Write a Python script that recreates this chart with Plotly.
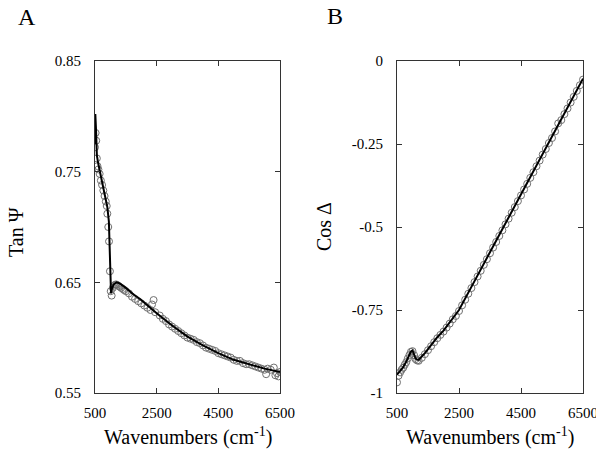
import plotly.graph_objects as go

# ---------------- Panel A: Tan Psi ----------------
a_fit_x = [500, 510, 530, 560, 600, 700, 800, 900, 950, 980, 1000, 1020, 1050, 1100, 1200,
           1300, 1500, 1750, 2000, 2500, 3000, 3500, 4000, 4500, 5000, 5500, 6000, 6500]
a_fit_y = [0.775, 0.802, 0.790, 0.765, 0.758, 0.745, 0.732, 0.718, 0.705, 0.680, 0.655, 0.640,
           0.644, 0.648, 0.650, 0.649, 0.645, 0.639, 0.634, 0.622, 0.611, 0.601, 0.593, 0.586,
           0.580, 0.576, 0.572, 0.569]

a_meas_x = [500, 520, 540, 560, 580, 610, 650, 690, 730, 770, 810, 850, 880, 900, 930, 955, 985,
            1010, 1040, 1080, 1120, 1160, 1200, 1250, 1300, 1350, 1400, 1450, 1500, 1600, 1700,
            1800, 1900, 2000, 2100, 2200, 2300, 2350, 2400, 2450, 2600, 2700, 2800, 2900, 3000,
            3100, 3200, 3300, 3400, 3500, 3600, 3700, 3800, 3900, 4000, 4100, 4200, 4300, 4400,
            4500, 4600, 4700, 4800, 4900, 5000, 5100, 5200, 5300, 5400, 5500, 5600, 5700, 5800,
            5900, 6000, 6050, 6100, 6200, 6300, 6350, 6400, 6450, 6500]
a_meas_y = [0.772, 0.785, 0.778, 0.762, 0.755, 0.752, 0.748, 0.742, 0.738, 0.733, 0.728, 0.723,
            0.719, 0.712, 0.700, 0.687, 0.660, 0.642, 0.638, 0.645, 0.647, 0.648, 0.648, 0.647,
            0.646, 0.645, 0.644, 0.643, 0.642, 0.640, 0.637, 0.635, 0.633, 0.631, 0.629, 0.627,
            0.625, 0.630, 0.634, 0.623, 0.620, 0.617, 0.615, 0.612, 0.610, 0.608, 0.606, 0.604,
            0.602, 0.600, 0.599, 0.598, 0.596, 0.595, 0.593, 0.591, 0.590, 0.589, 0.588, 0.586,
            0.585, 0.584, 0.583, 0.582, 0.580, 0.579, 0.579, 0.577, 0.576, 0.576, 0.575, 0.574,
            0.573, 0.572, 0.571, 0.567, 0.572, 0.571, 0.573, 0.566, 0.568, 0.565, 0.569]

# ---------------- Panel B: Cos Delta ----------------
b_fit_x = [500, 600, 700, 800, 900, 950, 1000, 1050, 1100, 1150, 1200, 1400, 1600, 1800, 2000,
           2500, 3000, 3500, 4000, 4500, 5000, 5500, 6000, 6500]
b_fit_y = [-0.945, -0.935, -0.922, -0.905, -0.884, -0.875, -0.872, -0.884, -0.896, -0.900,
           -0.900, -0.880, -0.856, -0.832, -0.812, -0.750, -0.663, -0.576, -0.489, -0.402,
           -0.314, -0.227, -0.140, -0.053]

b_meas_x = [500, 550, 600, 650, 700, 750, 800, 850, 900, 950, 1000, 1050, 1100, 1150, 1200,
            1300, 1400, 1500, 1600, 1700, 1800, 1900, 2000, 2100, 2200, 2300, 2400, 2500, 2600,
            2700, 2800, 2900, 3000, 3100, 3200, 3300, 3400, 3500, 3600, 3700, 3800, 3900, 4000,
            4100, 4200, 4300, 4400, 4500, 4600, 4700, 4800, 4900, 5000, 5100, 5200, 5300, 5400,
            5500, 5600, 5700, 5800, 5900, 6000, 6100, 6200, 6300, 6400, 6500]
b_meas_y = [-0.968, -0.948, -0.938, -0.930, -0.924, -0.915, -0.907, -0.896, -0.886, -0.876,
            -0.874, -0.886, -0.898, -0.902, -0.903, -0.894, -0.883, -0.871, -0.859, -0.847,
            -0.835, -0.825, -0.815, -0.803, -0.791, -0.778, -0.768, -0.753, -0.736, -0.719,
            -0.701, -0.684, -0.666, -0.649, -0.632, -0.614, -0.597, -0.579, -0.562, -0.545,
            -0.527, -0.510, -0.492, -0.475, -0.457, -0.440, -0.422, -0.405, -0.387, -0.370,
            -0.352, -0.335, -0.317, -0.300, -0.282, -0.265, -0.247, -0.232, -0.212, -0.188,
            -0.178, -0.160, -0.143, -0.125, -0.108, -0.090, -0.073, -0.056]

x_ticks = [500, 2500, 4500, 6500]
a_ticks = [0.55, 0.65, 0.75, 0.85]
a_tick_text = ["0.55", "0.65", "0.75", "0.85"]
b_ticks = [-1, -0.75, -0.5, -0.25, 0]
b_tick_text = ["-1", "-0.75", "-0.5", "-0.25", "0"]

FONT = "Liberation Serif, Times New Roman, serif"
OFF = 8                      # page body margin of the browser
W, H = 604 - OFF, 449 - OFF  # figure size so that it fits the window


def px_x(x):
    return (x - OFF) / W


def px_y(y):
    return 1 - (y - OFF) / H


fig = go.Figure()
marker = dict(symbol="circle-open", size=7, color="#707070", line=dict(width=1, color="#707070"))
fig.add_trace(go.Scatter(x=a_meas_x, y=a_meas_y, mode="markers", marker=marker,
                         xaxis="x", yaxis="y", showlegend=False))
fig.add_trace(go.Scatter(x=a_fit_x, y=a_fit_y, mode="lines", line=dict(color="black", width=2),
                         xaxis="x", yaxis="y", showlegend=False))
fig.add_trace(go.Scatter(x=b_meas_x, y=b_meas_y, mode="markers", marker=marker,
                         xaxis="x2", yaxis="y2", showlegend=False))
fig.add_trace(go.Scatter(x=b_fit_x, y=b_fit_y, mode="lines", line=dict(color="black", width=2),
                         xaxis="x2", yaxis="y2", showlegend=False))

ydom = [px_y(393), px_y(61)]
axcommon = dict(showgrid=False, zeroline=False, showline=True, linecolor="#333", linewidth=1,
                mirror="ticks", ticks="inside", ticklen=5, tickcolor="#333", automargin=False,
                tickfont=dict(family=FONT, size=15, color="black"))

fig.update_layout(
    template="none",
    width=W, height=H,
    margin=dict(l=0, r=0, t=0, b=0),
    font=dict(family=FONT, color="black"),
    paper_bgcolor="white", plot_bgcolor="white",
    xaxis=dict(domain=[px_x(95), px_x(280)], range=[500, 6500], tickvals=x_ticks,
               ticktext=[str(v) for v in x_ticks], anchor="y", ticklabelstandoff=6, **axcommon),
    yaxis=dict(domain=ydom, range=[0.55, 0.85], tickvals=a_ticks, ticktext=a_tick_text,
               anchor="x", ticklabelstandoff=10, **axcommon),
    xaxis2=dict(domain=[px_x(397), px_x(583)], range=[500, 6500], tickvals=x_ticks,
                ticktext=[str(v) for v in x_ticks], anchor="y2", ticklabelstandoff=6, **axcommon),
    yaxis2=dict(domain=ydom, range=[-1, 0], tickvals=b_ticks, ticktext=b_tick_text,
                anchor="x2", ticklabelstandoff=10, **axcommon),
)


def ann(text, x, y, size, angle=0):
    fig.add_annotation(text=text, x=px_x(x), y=px_y(y), xref="paper", yref="paper",
                       showarrow=False, textangle=angle, xanchor="center", yanchor="middle",
                       font=dict(family=FONT, size=size, color="black"))


ann("A", 27, 17, 24)
ann("B", 335, 16, 24)
ann("Tan Ψ", 16, 232, 20, -90)
ann("Cos Δ", 324, 227, 20, -90)
ann("Wavenumbers (cm<sup>-1</sup>)", 188, 436, 20)
ann("Wavenumbers (cm<sup>-1</sup>)", 490, 436, 20)

fig.write_html("out.html")
